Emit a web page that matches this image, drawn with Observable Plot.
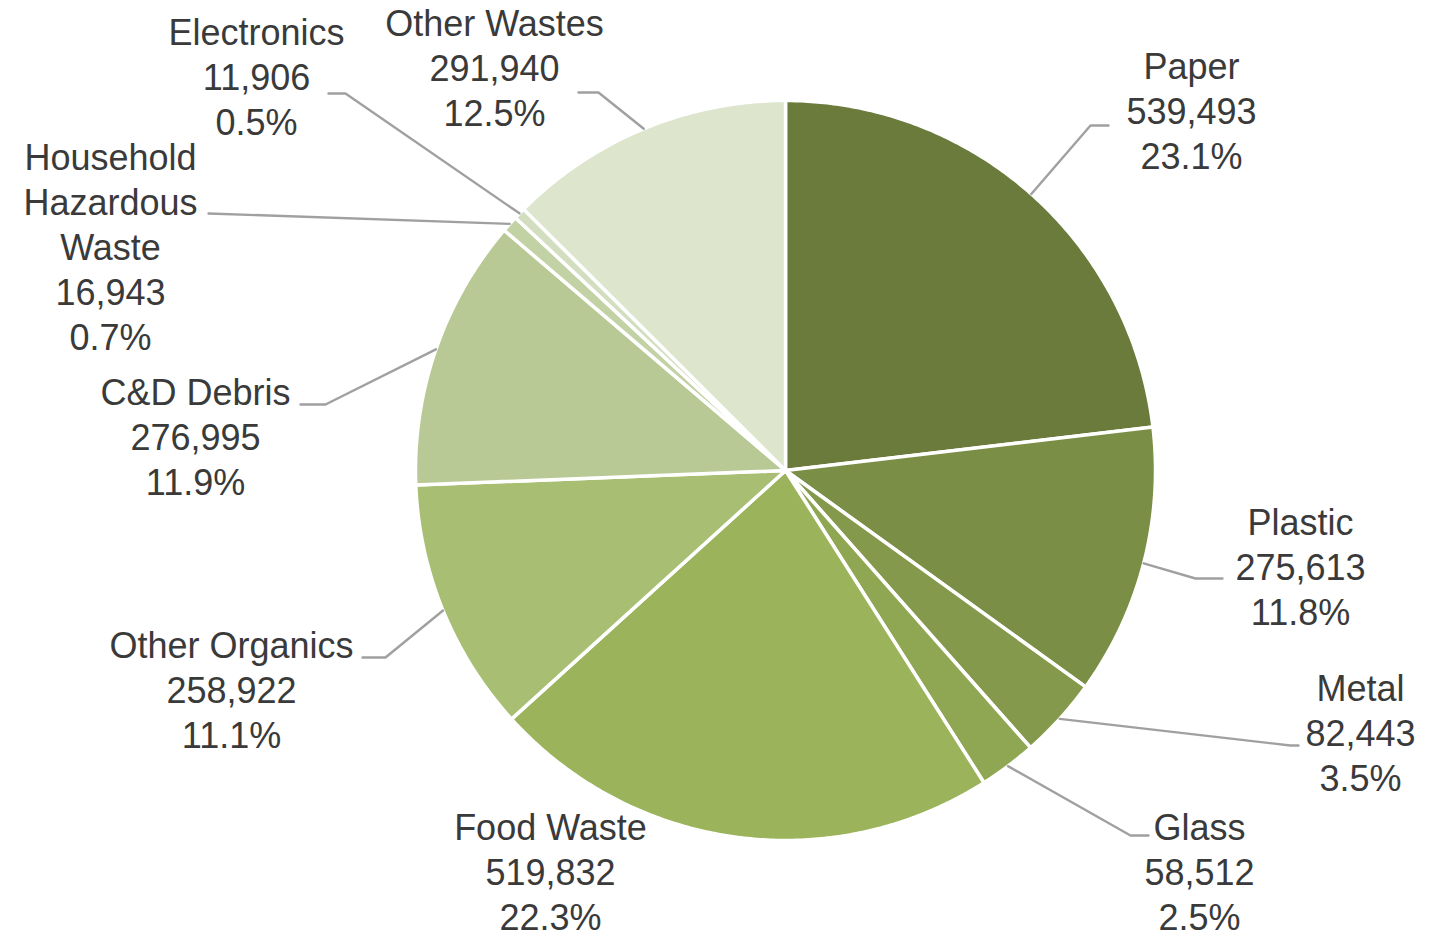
<!DOCTYPE html>
<html><head><meta charset="utf-8">
<script src="https://cdn.jsdelivr.net/npm/d3@7"></script>
<script src="https://cdn.jsdelivr.net/npm/@observablehq/plot@0.6"></script>
<style>body{margin:0;background:#fff}svg{display:block}</style>
</head><body><div id="chart"></div>
<script>
// ---- data ----
const categories = ["Paper","Plastic","Metal","Glass","Food Waste","Other Organics","C&D Debris","Household Hazardous Waste","Electronics","Other Wastes"];
const tons = [539493,275613,82443,58512,519832,258922,276995,16943,11906,291940];
const labelNames = ["Paper","Plastic","Metal","Glass","Food Waste","Other Organics","C&D Debris","Household\nHazardous\nWaste","Electronics","Other Wastes"];
const colors = ["#6a7b3c","#7a8e45","#85994c","#8fa653","#9bb35b","#a8bf73","#b8c995","#c3d2a5","#d3ddc0","#dde5cd"];

// ---- layout (pixels) ----
const W = 1444, H = 940, CX = 785, CY = 470, R = 370;
const labelLayout = [
  {x:1191, y:109, elbow:[1090,125], end:[1108,125]},
  {x:1300, y:565, elbow:[1195,578], end:[1222,578]},
  {x:1360, y:731, elbow:[1290,745], end:[1298,745]},
  {x:1199, y:870, elbow:[1130,835], end:[1148,835]},
  {x:550,  y:870, elbow:null, end:null},
  {x:231,  y:688, elbow:[385,657], end:[362,657]},
  {x:195,  y:435, elbow:[325,404], end:[300,404]},
  {x:110,  y:245, elbow:null, end:[208,213]},
  {x:256,  y:75,  elbow:[345,93], end:[328,93]},
  {x:494,  y:66,  elbow:[598,92], end:[578,92]}
];

const total = d3.sum(tons);
const arcs = d3.pie().sort(null).value(d => d)(tons);
const fmtN = d3.format(",");
const fmtP = d3.format(".1%");

const px = a => CX + R * Math.sin(a);
const py = a => CY - R * Math.cos(a);

// slice polygons
const slicePts = [];
arcs.forEach((a, i) => {
  const cat = categories[i];
  slicePts.push({cat, x: CX, y: CY});
  const n = Math.max(2, Math.ceil((a.endAngle - a.startAngle) / (Math.PI / 360)));
  for (let k = 0; k <= n; k++) {
    const t = a.startAngle + (a.endAngle - a.startAngle) * k / n;
    slicePts.push({cat, x: px(t), y: py(t)});
  }
  slicePts.push({cat, x: CX, y: CY});
});

// leader lines
const leaderPts = [];
arcs.forEach((a, i) => {
  const L = labelLayout[i];
  if (!L.end) return;
  const m = (a.startAngle + a.endAngle) / 2;
  const cat = categories[i];
  leaderPts.push({cat, x: px(m), y: py(m)});
  if (L.elbow) leaderPts.push({cat, x: L.elbow[0], y: L.elbow[1]});
  leaderPts.push({cat, x: L.end[0], y: L.end[1]});
});

// labels
const labels = categories.map((c, i) => ({
  cat: c,
  x: labelLayout[i].x,
  y: labelLayout[i].y,
  text: `${labelNames[i]}\n${fmtN(tons[i])}\n${fmtP(tons[i] / total)}`
}));

const chart = Plot.plot({
  width: W, height: H, margin: 0,
  style: {background: "#fff"},
  x: {domain: [0, W], range: [0, W], axis: null},
  y: {domain: [0, H], range: [0, H], axis: null},
  color: {domain: categories, range: colors},
  marks: [
    Plot.line(slicePts, {x: "x", y: "y", z: "cat", fill: "cat", stroke: "white", strokeWidth: 3.5, strokeLinejoin: "round", curve: "linear"}),
    Plot.line(leaderPts, {x: "x", y: "y", z: "cat", stroke: "#a0a0a0", strokeWidth: 2.4}),
    Plot.text(labels, {x: "x", y: "y", text: "text", textAnchor: "middle", lineAnchor: "middle", lineHeight: 1.25,
      fontSize: 36, fill: "#3a3a3a", fontFamily: "'Liberation Sans', Arial, sans-serif"})
  ]
});
document.getElementById("chart").appendChild(chart);
</script>
</body></html>
